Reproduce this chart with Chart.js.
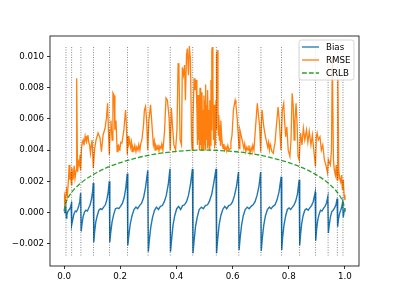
<!DOCTYPE html>
<html>
<head>
<meta charset="utf-8">
<script src="https://cdn.jsdelivr.net/npm/chart.js@4.4.1/dist/chart.umd.min.js"></script>
<style>
  html, body { margin: 0; padding: 0; background: #fff; }
  canvas { display: block; }
</style>
</head>
<body>
<canvas id="chart" width="399" height="299"></canvas>
<script>
// values are in units of 1e-3 (tick labels are scaled back below)
const xTicks = [0.0, 0.2, 0.4, 0.6, 0.8, 1.0];
const yTicks = [-2, 0, 2, 4, 6, 8, 10];

// dotted vertical markers
const markerX = [0.007, 0.027, 0.060, 0.105, 0.162, 0.226, 0.299, 0.378, 0.458,
                 0.542, 0.622, 0.701, 0.774, 0.838, 0.895, 0.940, 0.973, 0.993];
const markerSpan = [-2.75, 10.64];

const biasX = [
  0.000, 0.003, 0.006, 0.008, 0.010, 0.013, 0.016, 0.019, 0.022, 0.025, 0.026,
  0.028, 0.031, 0.035, 0.040, 0.044, 0.048, 0.052, 0.056, 0.059,
  0.061, 0.064, 0.068, 0.073, 0.078, 0.083, 0.088, 0.093, 0.098, 0.102, 0.104,
  0.106, 0.109, 0.113, 0.118, 0.124, 0.130, 0.135, 0.141, 0.147, 0.152, 0.157, 0.161,
  0.163, 0.166, 0.171, 0.177, 0.183, 0.189, 0.195, 0.201, 0.208, 0.214, 0.220, 0.225,
  0.227, 0.231, 0.236, 0.242, 0.249, 0.256, 0.262, 0.269, 0.276, 0.283, 0.290, 0.298,
  0.300, 0.304, 0.309, 0.315, 0.322, 0.329, 0.336, 0.343, 0.350, 0.357, 0.364, 0.371, 0.377,
  0.379, 0.383, 0.388, 0.394, 0.401, 0.408, 0.415, 0.422, 0.429, 0.436, 0.443, 0.450, 0.457,
  0.459, 0.463, 0.468, 0.474, 0.481, 0.489, 0.496, 0.503, 0.511, 0.518, 0.526, 0.533, 0.541,
  0.543, 0.547, 0.552, 0.558, 0.565, 0.572, 0.579, 0.586, 0.593, 0.600, 0.607, 0.614, 0.621,
  0.623, 0.627, 0.632, 0.638, 0.645, 0.652, 0.659, 0.666, 0.673, 0.680, 0.687, 0.694, 0.700,
  0.702, 0.706, 0.711, 0.717, 0.724, 0.731, 0.737, 0.744, 0.751, 0.758, 0.765, 0.773,
  0.775, 0.778, 0.783, 0.789, 0.795, 0.801, 0.807, 0.813, 0.819, 0.825, 0.831, 0.837,
  0.839, 0.842, 0.846, 0.851, 0.857, 0.863, 0.869, 0.875, 0.881, 0.887, 0.894,
  0.896, 0.899, 0.903, 0.908, 0.913, 0.918, 0.923, 0.929, 0.934, 0.939,
  0.941, 0.944, 0.948, 0.953, 0.958, 0.963, 0.968, 0.972,
  0.974, 0.977, 0.981, 0.985, 0.989, 0.992,
  0.994, 0.997, 1.000
];
const biasY = [
  0.0, 0.2, 0.4, -0.35, -0.15, 0.05, 0.15, 0.2, 0.3, 0.5, 0.7,
  -0.8, -0.45, -0.1, 0.1, 0.05, 0.2, 0.4, 0.7, 1.25,
  -1.2, -0.7, -0.25, 0.05, 0.15, 0.1, 0.3, 0.5, 0.9, 1.4, 1.9,
  -1.9, -1.2, -0.6, -0.2, 0.15, 0.25, 0.2, 0.35, 0.5, 0.8, 1.3, 2.0,
  -1.9, -1.3, -0.6, -0.1, 0.25, 0.3, 0.25, 0.4, 0.6, 0.95, 1.6, 2.5,
  -2.1, -1.4, -0.7, -0.2, 0.2, 0.35, 0.25, 0.45, 0.6, 0.95, 1.6, 2.7,
  -2.5, -1.7, -0.9, -0.3, 0.15, 0.35, 0.2, 0.4, 0.45, 0.7, 1.1, 1.8, 2.8,
  -2.5, -1.7, -0.8, -0.2, 0.25, 0.4, 0.2, 0.45, 0.5, 0.7, 1.1, 1.8, 2.8,
  -2.6, -1.8, -0.9, -0.3, 0.2, 0.35, 0.25, 0.45, 0.5, 0.75, 1.2, 1.9, 2.8,
  -2.6, -1.7, -0.8, -0.2, 0.2, 0.4, 0.25, 0.45, 0.5, 0.7, 1.1, 1.7, 2.6,
  -2.4, -1.6, -0.8, -0.2, 0.2, 0.35, 0.25, 0.4, 0.5, 0.7, 1.1, 1.7, 2.6,
  -2.45, -1.6, -0.8, -0.2, 0.2, 0.35, 0.25, 0.4, 0.5, 0.8, 1.3, 2.3,
  -2.4, -1.6, -0.8, -0.2, 0.2, 0.3, 0.2, 0.35, 0.5, 0.75, 1.2, 2.1,
  -2.1, -1.4, -0.7, -0.2, 0.15, 0.25, 0.15, 0.3, 0.45, 0.7, 1.3,
  -1.8, -1.1, -0.5, -0.1, 0.15, 0.1, 0.25, 0.4, 0.6, 1.0,
  -1.3, -0.8, -0.3, 0.05, 0.15, 0.3, 0.5, 0.9,
  -0.9, -0.4, -0.05, 0.15, 0.4, 0.7,
  -0.3, 0.1, 0.3
];

const rmseX = [
  0.000, 0.002, 0.005, 0.009, 0.012, 0.016, 0.018, 0.021, 0.023, 0.026,
  0.028, 0.032, 0.036, 0.039, 0.043, 0.044, 0.046, 0.048, 0.052, 0.055, 0.057, 0.059,
  0.062, 0.065, 0.068, 0.071, 0.075, 0.078, 0.080, 0.083, 0.085, 0.088, 0.091, 0.094, 0.097, 0.100, 0.104,
  0.109, 0.114, 0.121, 0.128, 0.133, 0.139, 0.146, 0.151, 0.155, 0.158, 0.161,
  0.164, 0.167, 0.171, 0.174, 0.178, 0.181, 0.185, 0.189, 0.192, 0.194, 0.197, 0.199, 0.202, 0.206, 0.209, 0.213, 0.219, 0.222, 0.225,
  0.228, 0.231, 0.234, 0.237, 0.240, 0.242, 0.245, 0.249, 0.252, 0.256, 0.259, 0.263, 0.266, 0.270, 0.273, 0.277, 0.283, 0.286, 0.290, 0.294, 0.298,
  0.302, 0.308, 0.313, 0.318, 0.321, 0.324, 0.327, 0.331, 0.334, 0.338, 0.341, 0.345, 0.348, 0.352, 0.355, 0.358, 0.363, 0.368, 0.374, 0.378,
  0.382, 0.386, 0.391, 0.397, 0.402, 0.406, 0.409, 0.413, 0.418, 0.421, 0.425, 0.429, 0.432, 0.436, 0.439, 0.443, 0.446, 0.450, 0.454, 0.456,
  0.459, 0.463, 0.466, 0.470, 0.473, 0.475, 0.477, 0.479, 0.480, 0.482, 0.484, 0.486, 0.487, 0.489, 0.491, 0.493, 0.494, 0.496, 0.498, 0.500,
  0.502, 0.503, 0.505, 0.507, 0.509, 0.510, 0.512, 0.514, 0.516, 0.517, 0.519, 0.521, 0.523, 0.525, 0.526, 0.528, 0.530, 0.532, 0.534, 0.535, 0.537, 0.539, 0.541,
  0.542, 0.544, 0.546, 0.548, 0.549, 0.551, 0.553, 0.555, 0.557, 0.558, 0.562, 0.566, 0.569, 0.572, 0.576, 0.579, 0.583, 0.587, 0.591, 0.594,
  0.598, 0.603, 0.609, 0.612, 0.617, 0.623, 0.626, 0.630, 0.634, 0.640, 0.643, 0.647, 0.651, 0.655, 0.658, 0.662, 0.666, 0.669, 0.672, 0.676, 0.681, 0.688, 0.692, 0.696, 0.700,
  0.703, 0.705, 0.711, 0.717, 0.725, 0.728, 0.731, 0.734, 0.736, 0.740, 0.745, 0.748, 0.751, 0.757, 0.762, 0.767, 0.772,
  0.777, 0.782, 0.785, 0.789, 0.793, 0.798, 0.804, 0.808, 0.812, 0.816, 0.819, 0.822, 0.826, 0.830, 0.833, 0.837,
  0.842, 0.847, 0.852, 0.857, 0.863, 0.868, 0.873, 0.879, 0.884, 0.889, 0.895,
  0.898, 0.901, 0.905, 0.911, 0.916, 0.921, 0.927, 0.932, 0.938,
  0.941, 0.948, 0.952, 0.955, 0.959, 0.962, 0.966, 0.969, 0.972, 0.975, 0.978, 0.981, 0.985, 0.988, 0.991, 0.994, 0.997, 1.000
];
const rmseY = [
  0.3, 1.06, 0.8, 1.45, 1.1, 2.2, 3.05, 2.1, 2.6, 1.8,
  2.85, 2.1, 3.0, 2.2, 2.7, 8.6, 8.6, 2.6, 3.25, 3.05, 3.7, 2.7,
  4.1, 4.5, 4.65, 4.3, 4.9, 4.6, 4.5, 4.85, 4.97, 4.5, 4.33, 3.8, 4.3, 4.65, 2.85,
  4.1, 4.65, 5.1, 4.8, 3.9, 4.97, 5.4, 6.05, 7.0, 5.3, 3.7,
  5.3, 5.9, 4.65, 7.66, 7.5, 5.3, 5.9, 3.9, 4.3, 4.33, 4.0, 4.1, 4.5, 4.45, 4.8, 5.3, 6.57, 5.6, 3.7,
  4.9, 4.4, 4.6, 4.2, 4.5, 3.9, 4.2, 4.0, 4.3, 3.9, 4.2, 4.0, 4.35, 4.0, 4.4, 4.65, 5.6, 6.57, 6.8, 5.9, 4.0,
  5.9, 6.9, 5.6, 4.33, 4.6, 4.0, 4.3, 4.07, 4.35, 3.95, 4.25, 4.1, 4.4, 4.0, 4.6, 5.3, 7.34, 7.2, 6.05, 4.0,
  6.7, 5.6, 4.33, 4.0, 5.3, 9.57, 9.13, 4.65, 4.33, 9.3, 8.8, 9.45, 7.2, 10.1, 10.5, 8.8, 10.67, 9.77, 4.65, 4.0,
  5.9, 8.6, 7.85, 8.5, 6.57, 4.33, 7.53, 4.65, 7.2, 4.0, 8.0, 4.33, 6.9, 4.0, 7.7, 4.65, 6.57, 4.0, 7.5, 4.33,
  7.2, 4.0, 8.2, 4.65, 6.9, 4.1, 7.85, 4.33, 6.57, 4.0, 7.2, 4.33, 8.5, 5.3, 10.4, 10.6, 7.85, 4.65, 6.9, 4.1, 6.57, 4.33, 7.2,
  5.3, 10.1, 10.4, 6.9, 4.97, 6.25, 4.65, 5.6, 4.33, 5.9, 4.65, 4.1, 4.4, 4.0, 4.2, 3.95, 4.3, 4.0, 4.1, 4.5,
  4.97, 6.57, 7.2, 6.9, 5.9, 4.1, 5.3, 4.97, 4.65, 4.1, 4.4, 3.9, 4.2, 4.0, 4.3, 3.8, 4.15, 3.95, 4.3, 4.0, 5.3, 7.0, 6.25, 5.6, 3.9,
  5.9, 6.57, 5.5, 4.86, 4.2, 4.5, 4.0, 4.35, 4.2, 3.9, 3.8, 4.2, 4.45, 5.8, 6.76, 5.7, 4.0,
  6.57, 7.0, 5.9, 4.86, 5.5, 4.0, 3.6, 4.65, 7.64, 6.76, 4.65, 5.9, 7.0, 5.5, 3.6, 3.37,
  5.1, 4.33, 5.4, 4.65, 5.3, 4.5, 5.2, 4.33, 4.97, 4.0, 2.95,
  4.86, 5.1, 4.65, 4.86, 4.0, 4.33, 3.37, 3.05, 2.55,
  3.37, 3.05, 4.0, 9.9, 3.37, 2.73, 2.4, 3.05, 2.1, 8.6, 2.73, 2.2, 1.95, 2.4, 1.45, 2.1, 1.13, 0.8
];

const crlbX = [0, 0.005, 0.01, 0.02, 0.035, 0.05, 0.075, 0.1, 0.15, 0.2, 0.25, 0.3, 0.35, 0.4, 0.45, 0.5,
               0.55, 0.6, 0.65, 0.7, 0.75, 0.8, 0.85, 0.9, 0.925, 0.95, 0.965, 0.98, 0.99, 0.995, 1.0];
const crlbY = [0.1, 0.55, 0.8, 1.12, 1.47, 1.74, 2.1, 2.4, 2.86, 3.2, 3.46, 3.67, 3.82, 3.92, 3.98, 4.0,
               3.98, 3.92, 3.82, 3.67, 3.46, 3.2, 2.86, 2.4, 2.1, 1.74, 1.47, 1.12, 0.8, 0.55, 0.1];

const seriesNames = ["Bias", "RMSE", "CRLB"];
const colors = { Bias: "#1f77b4", RMSE: "#ff7f0e", CRLB: "#2ca02c" };

function pts(xs, ys) {
  return xs.map((x, i) => ({ x: x, y: ys[i] }));
}

const markerPts = [];
markerX.forEach((x) => {
  markerPts.push({ x: x, y: markerSpan[0] }, { x: x, y: markerSpan[1] }, { x: x, y: null });
});

const FONT = { family: "'DejaVu Sans', sans-serif", size: 8.7 };

// axes box + legend drawn the matplotlib way
const framePlugin = {
  id: "frame",
  afterDatasetsDraw(chart) {
    const ctx = chart.ctx;
    const a = chart.chartArea;
    ctx.save();
    ctx.strokeStyle = "#000";
    ctx.lineWidth = 0.8;
    ctx.strokeRect(a.left, a.top, a.right - a.left, a.bottom - a.top);

    // legend box (upper right)
    const bx = 299, by = 40, bw = 55, bh = 40, r = 2.5;
    ctx.beginPath();
    ctx.moveTo(bx + r, by);
    ctx.arcTo(bx + bw, by, bx + bw, by + bh, r);
    ctx.arcTo(bx + bw, by + bh, bx, by + bh, r);
    ctx.arcTo(bx, by + bh, bx, by, r);
    ctx.arcTo(bx, by, bx + bw, by, r);
    ctx.closePath();
    ctx.fillStyle = "rgba(255,255,255,0.8)";
    ctx.fill();
    ctx.strokeStyle = "#cccccc";
    ctx.lineWidth = 0.8;
    ctx.stroke();

    ctx.font = FONT.size + "px " + FONT.family;
    ctx.textBaseline = "middle";
    ctx.textAlign = "left";
    seriesNames.forEach((name, i) => {
      const yy = 47 + i * 13;
      ctx.beginPath();
      ctx.setLineDash(name === "CRLB" ? [4.8, 2.1] : []);
      ctx.strokeStyle = colors[name];
      ctx.lineWidth = 1.3;
      ctx.moveTo(302, yy);
      ctx.lineTo(319, yy);
      ctx.stroke();
      ctx.setLineDash([]);
      ctx.fillStyle = "#000";
      ctx.fillText(name, 326, yy + 0.5);
    });
    ctx.restore();
  },
};

new Chart(document.getElementById("chart"), {
  type: "line",
  data: {
    datasets: [
      {
        label: "markers",
        data: markerPts,
        borderColor: "rgba(0,0,0,0.6)",
        borderWidth: 0.8,
        borderDash: [1, 1.5],
        spanGaps: false,
        order: 0,
      },
      {
        label: "CRLB",
        data: pts(crlbX, crlbY),
        borderColor: colors.CRLB,
        borderWidth: 1.3,
        borderDash: [4.8, 2.1],
        cubicInterpolationMode: "monotone",
        order: 1,
      },
      {
        label: "RMSE",
        data: pts(rmseX, rmseY),
        borderColor: colors.RMSE,
        borderWidth: 1.3,
        order: 2,
      },
      {
        label: "Bias",
        data: pts(biasX, biasY),
        borderColor: colors.Bias,
        borderWidth: 1.4,
        order: 3,
      },
    ],
  },
  plugins: [framePlugin],
  options: {
    responsive: false,
    animation: false,
    devicePixelRatio: 1,
    layout: { padding: { left: 0, top: 36, right: 40, bottom: 0 } },
    elements: { point: { radius: 0 }, line: { tension: 0, fill: false } },
    plugins: { legend: { display: false }, tooltip: { enabled: false } },
    scales: {
      x: {
        type: "linear",
        min: -0.05,
        max: 1.05,
        afterBuildTicks: (s) => { s.ticks = xTicks.map((v) => ({ value: v })); },
        afterFit: (s) => { s.height = 33; },
        ticks: {
          autoSkip: false,
          maxRotation: 0,
          padding: 3,
          color: "#000",
          font: FONT,
          callback: (v) => Number(v).toFixed(1),
        },
        grid: { drawOnChartArea: false, drawTicks: true, tickLength: 3, color: "#000", lineWidth: 0.8 },
        border: { display: false },
      },
      y: {
        type: "linear",
        min: -3.42,
        max: 11.31,
        afterBuildTicks: (s) => { s.ticks = yTicks.map((v) => ({ value: v })); },
        afterFit: (s) => { s.width = 50; },
        ticks: {
          autoSkip: false,
          padding: 3,
          color: "#000",
          font: FONT,
          callback: (v) => (v / 1000).toFixed(3).replace("-", "\u2212"),
        },
        grid: { drawOnChartArea: false, drawTicks: true, tickLength: 3, color: "#000", lineWidth: 0.8 },
        border: { display: false },
      },
    },
  },
});
</script>
</body>
</html>
